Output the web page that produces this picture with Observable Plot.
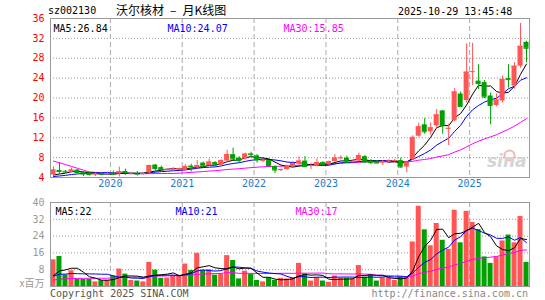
<!DOCTYPE html>
<html><head><meta charset="utf-8">
<script src="https://cdn.jsdelivr.net/npm/d3@7"></script>
<script src="https://cdn.jsdelivr.net/npm/@observablehq/plot@0.6"></script>
<style>
html,body{margin:0;padding:0;background:#fff;}
#wrap{position:relative;width:545px;height:300px;overflow:hidden;font-family:"DejaVu Sans Mono",monospace;background:#fff;}
.t{position:absolute;white-space:nowrap;font-size:10px;line-height:12px;}
#main,#vol{position:absolute;left:0;}
#main{top:0}
#vol{top:190px}
</style></head><body>
<div id="wrap">
<div id="main"></div><div id="vol"></div>
<div class="t" style="left:48px;top:5px;color:#000">sz002130</div>
<div class="t" style="left:116px;top:2px;font-family:'Noto Sans CJK SC';font-size:12px;line-height:16px;color:#000">沃尔核材&ensp;–&ensp;月K线图</div>
<div class="t" style="left:398px;top:6px;color:#000">2025-10-29 13:45:48</div>
<div class="t" style="left:50px;top:288px;color:#555">Copyright 2025 SINA.COM</div>
<div class="t" style="right:17px;top:288px;color:#888">http://finance.sina.com.cn</div>
</div>
<script>
const months = [
 "2019-03","2019-04","2019-05","2019-06","2019-07","2019-08","2019-09","2019-10","2019-11","2019-12",
 "2020-01","2020-02","2020-03","2020-04","2020-05","2020-06","2020-07","2020-08","2020-09","2020-10","2020-11","2020-12",
 "2021-01","2021-02","2021-03","2021-04","2021-05","2021-06","2021-07","2021-08","2021-09","2021-10","2021-11","2021-12",
 "2022-01","2022-02","2022-03","2022-04","2022-05","2022-06","2022-07","2022-08","2022-09","2022-10","2022-11","2022-12",
 "2023-01","2023-02","2023-03","2023-04","2023-05","2023-06","2023-07","2023-08","2023-09","2023-10","2023-11","2023-12",
 "2024-01","2024-02","2024-03","2024-04","2024-05","2024-06","2024-07","2024-08","2024-09","2024-10","2024-11","2024-12",
 "2025-01","2025-02","2025-03","2025-04","2025-05","2025-06","2025-07","2025-08","2025-09","2025-10"];
const open = [4.5,5.4,5.25,5.1,5.5,5.0,4.9,4.5,4.8,4.6,
 4.9,4.7,5.2,4.7,4.8,4.6,4.9,6.5,6.0,5.5,
 5.5,5.6,5.5,6.3,5.9,6.9,6.4,7.0,6.5,7.3,
 8.6,7.9,7.7,8.75,8.35,7.4,7.4,6.2,5.4,5.6,
 6.2,6.7,7.3,6.3,6.4,7.0,6.6,7.2,7.85,7.9,
 7.1,7.3,8.2,7.3,7.1,6.9,7.15,7.25,7.4,6.1,
 7.6,12.3,14.6,13.2,14.4,17.4,13.8,15.4,20.8,19.5,
 25.2,23.4,23.1,20.4,18.5,19.4,23.9,22.4,26.4,31.2];
const high = [6.1,6.9,5.4,5.9,5.6,5.2,5.1,4.9,5.0,5.1,
 5.3,6.1,5.7,5.0,5.2,4.9,6.5,6.6,6.3,5.8,
 6.0,5.9,6.6,6.7,7.4,7.1,7.7,7.2,7.6,9.5,
 9.9,8.2,8.9,9.1,8.6,7.6,7.5,6.3,5.7,6.5,
 7.2,8.2,8.2,6.9,7.7,7.2,7.3,8.6,8.4,8.3,
 7.5,8.9,8.4,7.6,7.4,7.4,7.6,7.7,7.9,7.3,
 12.4,14.9,15.9,15.0,17.7,17.5,14.7,21.9,21.2,30.9,
 31.0,26.7,23.5,21.0,20.8,24.4,26.7,27.1,35.0,31.4];
const low = [4.4,4.7,4.9,5.0,4.8,4.2,4.3,4.2,4.5,4.5,
 4.4,4.1,4.4,4.6,4.3,4.5,4.9,5.3,5.3,5.3,
 5.2,5.4,5.3,5.1,5.7,6.0,6.2,6.2,6.3,7.0,
 7.2,6.9,7.5,8.1,6.9,7.0,6.1,4.8,5.2,5.5,
 6.1,6.5,6.0,5.6,6.2,6.4,6.4,7.1,7.5,6.9,
 6.9,7.2,7.0,6.6,6.8,6.4,7.0,7.1,5.9,5.0,
 7.5,12.1,12.7,12.5,13.7,12.7,10.4,15.2,18.2,19.0,
 22.5,21.7,19.9,14.6,18.2,19.0,22.0,21.8,26.0,27.1];
const close = [5.5,5.2,5.1,5.5,5.0,4.7,4.6,4.7,4.6,4.8,
 4.7,5.2,5.0,4.75,4.7,4.8,6.4,5.8,5.6,5.65,
 5.7,5.75,6.2,6.2,6.4,6.3,7.1,6.5,7.4,8.6,
 7.7,7.4,8.7,8.6,7.55,7.45,6.4,5.5,5.6,6.2,
 6.8,7.3,6.2,6.4,7.0,6.6,7.2,7.9,7.95,7.1,
 7.25,8.4,7.1,7.0,6.9,7.2,7.3,7.4,6.1,7.1,
 12.07,14.2,13.2,14.0,16.6,14.4,13.9,21.2,18.3,25.2,
 25.3,22.9,20.2,18.5,19.6,23.7,23.7,26.4,30.4,30.0];
const volume = [12.7,14.3,5.5,7.5,3.4,3.4,3.4,2.2,2.8,3.0,
 5.0,8.3,5.9,2.9,2.6,2.2,11.5,7.8,3.9,4.0,
 5.2,5.2,10.7,7.6,15.8,7.6,8.0,5.4,6.0,14.7,
 12.4,3.6,7.3,5.7,2.9,2.2,3.9,2.9,3.9,3.6,
 3.9,11.0,6.0,2.6,4.2,2.6,2.0,5.0,3.9,3.9,
 3.6,10.0,4.5,5.7,2.6,4.2,3.9,2.9,4.5,4.5,
 21.2,38.2,27.0,19.4,30.0,22.0,17.7,36.3,20.8,35.8,
 30.5,27.1,14.1,11.0,14.1,21.7,24.5,20.8,33.3,11.5];
// months before the window (2016-10 .. 2019-02), only feeding the moving averages
const priorClose = [15,16,17,16,16,16,6.5,6.2,5.9,6.0,5.9,5.8,5.8,5.7,5.7,5.6,5.5,5.5,5.4,5.4,4.1,3.9,3.8,3.8,3.9,4.2,4.2,4.1,4.5];
const priorVolume = [2.0,2.2,2.4,2.1,2.0,2.3,2.2,2.1,2.0,2.2,2.3,2.1,2.0,2.2,2.1,2.2,2.0,2.1,2.3,2.2,5.5,5.0,4.5,4.5,4.0,3.5,3.0,3.5,3.5];
const yearLabels = ["2020","2021","2022","2023","2024","2025"];
const priceTicks = [4,8,12,16,20,24,28,32,36];
const priceGrid = [8,12,16,20,24,28,32];
const volTicks = [8,16,24,32,40];
const volGrid = [8,16,24,32];

const RED = "#ff5555", GREEN = "#00a000", BLUE = "#1a7ccc";
const FONT = "DejaVu Sans Mono, monospace";

function movingAvg(prior, values, n) {
  const all = prior.concat(values), off = prior.length;
  return values.map((_, i) => {
    const end = off + i + 1, start = end - n;
    return start < 0 ? NaN : d3.mean(all.slice(start, end));
  });
}
const ma5 = movingAvg(priorClose, close, 5), ma10 = movingAvg(priorClose, close, 10), ma30 = movingAvg(priorClose, close, 30);
const vma5 = movingAvg(priorVolume, volume, 5), vma10 = movingAvg(priorVolume, volume, 10), vma30 = movingAvg(priorVolume, volume, 30);

const N = months.length;
const data = months.map((m, i) => ({
  i, month: m, open: open[i], high: high[i], low: low[i], close: close[i], volume: volume[i],
  ma5: ma5[i], ma10: ma10[i], ma30: ma30[i], vma5: vma5[i], vma10: vma10[i], vma30: vma30[i],
  color: close[i] >= open[i] ? RED : GREEN
}));
const jan = data.filter(d => d.month.endsWith("-01"));
const half = 0.42;

const main = Plot.plot({
  width: 545, height: 190,
  marginLeft: 50, marginRight: 16, marginTop: 18, marginBottom: 13,
  style: {fontFamily: FONT, fontSize: "10px", background: "transparent", overflow: "visible"},
  x: {type: "linear", domain: [-0.5, N - 0.5], axis: null},
  y: {domain: [4, 36], axis: null},
  marks: [
    Plot.ruleY(priceGrid, {y: d => d, stroke: "#999", strokeDasharray: "1,2"}),
    Plot.ruleX(jan, {x: d => d.i - 0.5, stroke: "#aaa", strokeDasharray: "5,3"}),
    Plot.dot(["logo"], {frameAnchor: "bottom-right", dx: -20, dy: -22, r: 5, fill: "none", stroke: "#f0b8b8", strokeWidth: 2}),
    Plot.text(["sina"], {text: d => d, frameAnchor: "bottom-right", dx: -3, dy: -11, textAnchor: "end", fontSize: 17, fontWeight: "bold", fontStyle: "italic", fontFamily: "DejaVu Sans", fill: "#d4d4d4"}),
    Plot.axisY({ticks: priceTicks, tickSize: 0, tickPadding: 6, fill: "#ff0000", label: null, fontFamily: FONT, fontSize: 10}),
    Plot.text(jan, {x: d => d.i - 0.5, text: (d, k) => yearLabels[k], frameAnchor: "bottom", dy: 9, fill: BLUE, fontFamily: FONT, fontSize: 10}),
    Plot.line(data, {x: "i", y: "ma30", stroke: "#ff00ff", strokeWidth: 1}),
    Plot.line(data, {x: "i", y: "ma10", stroke: "#0000ff", strokeWidth: 1}),
    Plot.line(data, {x: "i", y: "ma5", stroke: "#000000", strokeWidth: 1}),
    Plot.ruleX(data, {x: "i", y1: "low", y2: "high", stroke: "color", strokeWidth: 1}),
    Plot.rect(data, {x1: d => d.i - half, x2: d => d.i + half, y1: "open", y2: "close", fill: "color"}),
    Plot.ruleY(data, {y: "close", x1: d => d.i - half, x2: d => d.i + half, stroke: "color"}),
    Plot.frame({stroke: "#999"}),
    Plot.text(["MA5:" + ma5[N-1].toFixed(2)], {text: d => d, frameAnchor: "top-left", dx: 3, dy: 6, textAnchor: "start", fill: "#000", fontFamily: FONT, fontSize: 10}),
    Plot.text(["MA10:" + ma10[N-1].toFixed(2)], {text: d => d, frameAnchor: "top-left", dx: 117, dy: 6, textAnchor: "start", fill: "#0000ff", fontFamily: FONT, fontSize: 10}),
    Plot.text(["MA30:" + ma30[N-1].toFixed(2)], {text: d => d, frameAnchor: "top-left", dx: 233, dy: 6, textAnchor: "start", fill: "#ff00ff", fontFamily: FONT, fontSize: 10})
  ]
});
document.getElementById("main").appendChild(main);

const vol = Plot.plot({
  width: 545, height: 110,
  marginLeft: 50, marginRight: 16, marginTop: 12, marginBottom: 14,
  style: {fontFamily: FONT, fontSize: "10px", background: "transparent", overflow: "visible"},
  x: {type: "linear", domain: [-0.5, N - 0.5], axis: null},
  y: {domain: [0, 40], axis: null},
  marks: [
    Plot.ruleY(volGrid, {y: d => d, stroke: "#999", strokeDasharray: "1,2"}),
    Plot.ruleX(jan, {x: d => d.i - 0.5, stroke: "#aaa", strokeDasharray: "5,3"}),
    Plot.axisY({ticks: volTicks, tickSize: 0, tickPadding: 6, fill: "#999", label: null, fontFamily: FONT, fontSize: 10}),
    Plot.text(["x百万"], {text: d => d, frameAnchor: "bottom-left", dx: -6, textAnchor: "end", fill: "#999", fontFamily: "Noto Sans CJK SC", fontSize: 10}),
    Plot.rect(data, {x1: d => d.i - half, x2: d => d.i + half, y1: 0, y2: "volume", fill: "color"}),
    Plot.line(data, {x: "i", y: "vma30", stroke: "#ff00ff", strokeWidth: 1}),
    Plot.line(data, {x: "i", y: "vma10", stroke: "#0000ff", strokeWidth: 1}),
    Plot.line(data, {x: "i", y: "vma5", stroke: "#000000", strokeWidth: 1}),
    Plot.frame({stroke: "#999"}),
    Plot.text(["MA5:" + Math.round(vma5[N-1])], {text: d => d, frameAnchor: "top-left", dx: 5, dy: 5, textAnchor: "start", fill: "#000", fontFamily: FONT, fontSize: 10}),
    Plot.text(["MA10:" + Math.round(vma10[N-1])], {text: d => d, frameAnchor: "top-left", dx: 125, dy: 5, textAnchor: "start", fill: "#0000ff", fontFamily: FONT, fontSize: 10}),
    Plot.text(["MA30:" + Math.round(vma30[N-1])], {text: d => d, frameAnchor: "top-left", dx: 245, dy: 5, textAnchor: "start", fill: "#ff00ff", fontFamily: FONT, fontSize: 10})
  ]
});
document.getElementById("vol").appendChild(vol);
</script>
</body></html>
